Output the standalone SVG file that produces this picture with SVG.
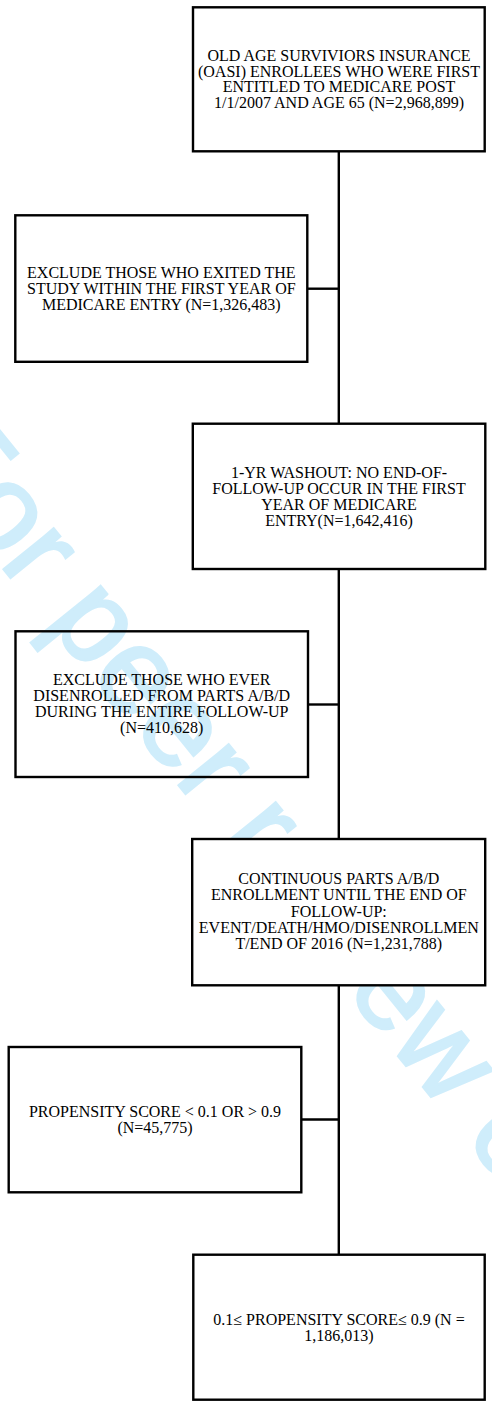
<svg xmlns="http://www.w3.org/2000/svg" width="492" height="1410" viewBox="0 0 492 1410">
<style>
.bg{fill:#ffffff}
.wm{font-family:"Liberation Sans",Arial,sans-serif;font-size:122px;fill:#cfedfb;stroke:#cfedfb;stroke-width:2.5}
.box{fill:none;stroke:#000;stroke-width:2.4}
.box.solid{fill:#ffffff}
.t{font-family:"Liberation Serif","Times New Roman",serif;font-size:16px;fill:#000;text-anchor:middle}
.c{stroke:#000;stroke-width:2.4;fill:none}
</style>
<rect class="bg" x="0" y="0" width="492" height="1410"/>
<g id="watermark">
<text class="wm" transform="translate(-91,452) rotate(51)">For peer review only</text>
</g>
<g id="connectors">
<line class="c" x1="338.8" y1="151.3" x2="338.8" y2="423.7"/>
<line class="c" x1="338.8" y1="569" x2="338.8" y2="839"/>
<line class="c" x1="338.8" y1="985.3" x2="338.8" y2="1254.7"/>
<line class="c" x1="307.3" y1="288.7" x2="338.8" y2="288.7"/>
<line class="c" x1="308" y1="704.5" x2="338.8" y2="704.5"/>
<line class="c" x1="301.3" y1="1119.5" x2="338.8" y2="1119.5"/>
</g>
<g id="n1">
<rect class="box" x="193" y="7.3" width="291.7" height="144"/>
<text class="t" x="339" y="60.8">OLD AGE SURVIVIORS INSURANCE</text>
<text class="t" x="339" y="76.6">(OASI) ENROLLEES WHO WERE FIRST</text>
<text class="t" x="339" y="92.4">ENTITLED TO MEDICARE POST</text>
<text class="t" x="339" y="108.2">1/1/2007 AND AGE 65 (N=2,968,899)</text>
</g>
<g id="n2">
<rect class="box" x="15.3" y="215.3" width="292" height="146.5"/>
<text class="t" x="161.3" y="277.5">EXCLUDE THOSE WHO EXITED THE</text>
<text class="t" x="161.3" y="293.5">STUDY WITHIN THE FIRST YEAR OF</text>
<text class="t" x="161.3" y="309.5">MEDICARE ENTRY (N=1,326,483)</text>
</g>
<g id="n3">
<rect class="box" x="192.8" y="423.7" width="292.5" height="145.3"/>
<text class="t" x="339" y="477.5">1-YR WASHOUT: NO END-OF-</text>
<text class="t" x="339" y="493.8">FOLLOW-UP OCCUR IN THE FIRST</text>
<text class="t" x="339" y="510.1">YEAR OF MEDICARE</text>
<text class="t" x="339" y="526.4">ENTRY(N=1,642,416)</text>
</g>
<g id="n4">
<rect class="box" x="15.5" y="631.3" width="292.5" height="145.7"/>
<text class="t" x="161.7" y="684.5">EXCLUDE THOSE WHO EVER</text>
<text class="t" x="161.7" y="700.8">DISENROLLED FROM PARTS A/B/D</text>
<text class="t" x="161.7" y="717.1">DURING THE ENTIRE FOLLOW-UP</text>
<text class="t" x="161.7" y="733.4">(N=410,628)</text>
</g>
<g id="n5">
<rect class="box solid" x="192.2" y="839" width="293" height="146.3"/>
<text class="t" x="338.8" y="884">CONTINUOUS PARTS A/B/D</text>
<text class="t" x="338.8" y="900.25">ENROLLMENT UNTIL THE END OF</text>
<text class="t" x="338.8" y="916.5">FOLLOW-UP:</text>
<text class="t" x="338.8" y="932.75">EVENT/DEATH/HMO/DISENROLLMEN</text>
<text class="t" x="338.8" y="949">T/END OF 2016 (N=1,231,788)</text>
</g>
<g id="n6">
<rect class="box" x="8.7" y="1047" width="292.6" height="145.3"/>
<text class="t" x="155" y="1116.7">PROPENSITY SCORE &lt; 0.1 OR &gt; 0.9</text>
<text class="t" x="155" y="1133">(N=45,775)</text>
</g>
<g id="n7">
<rect class="box" x="193.3" y="1254.7" width="291.4" height="145"/>
<text class="t" x="339" y="1324.5">0.1≤ PROPENSITY SCORE≤ 0.9 (N =</text>
<text class="t" x="339" y="1340.8">1,186,013)</text>
</g>
</svg>
